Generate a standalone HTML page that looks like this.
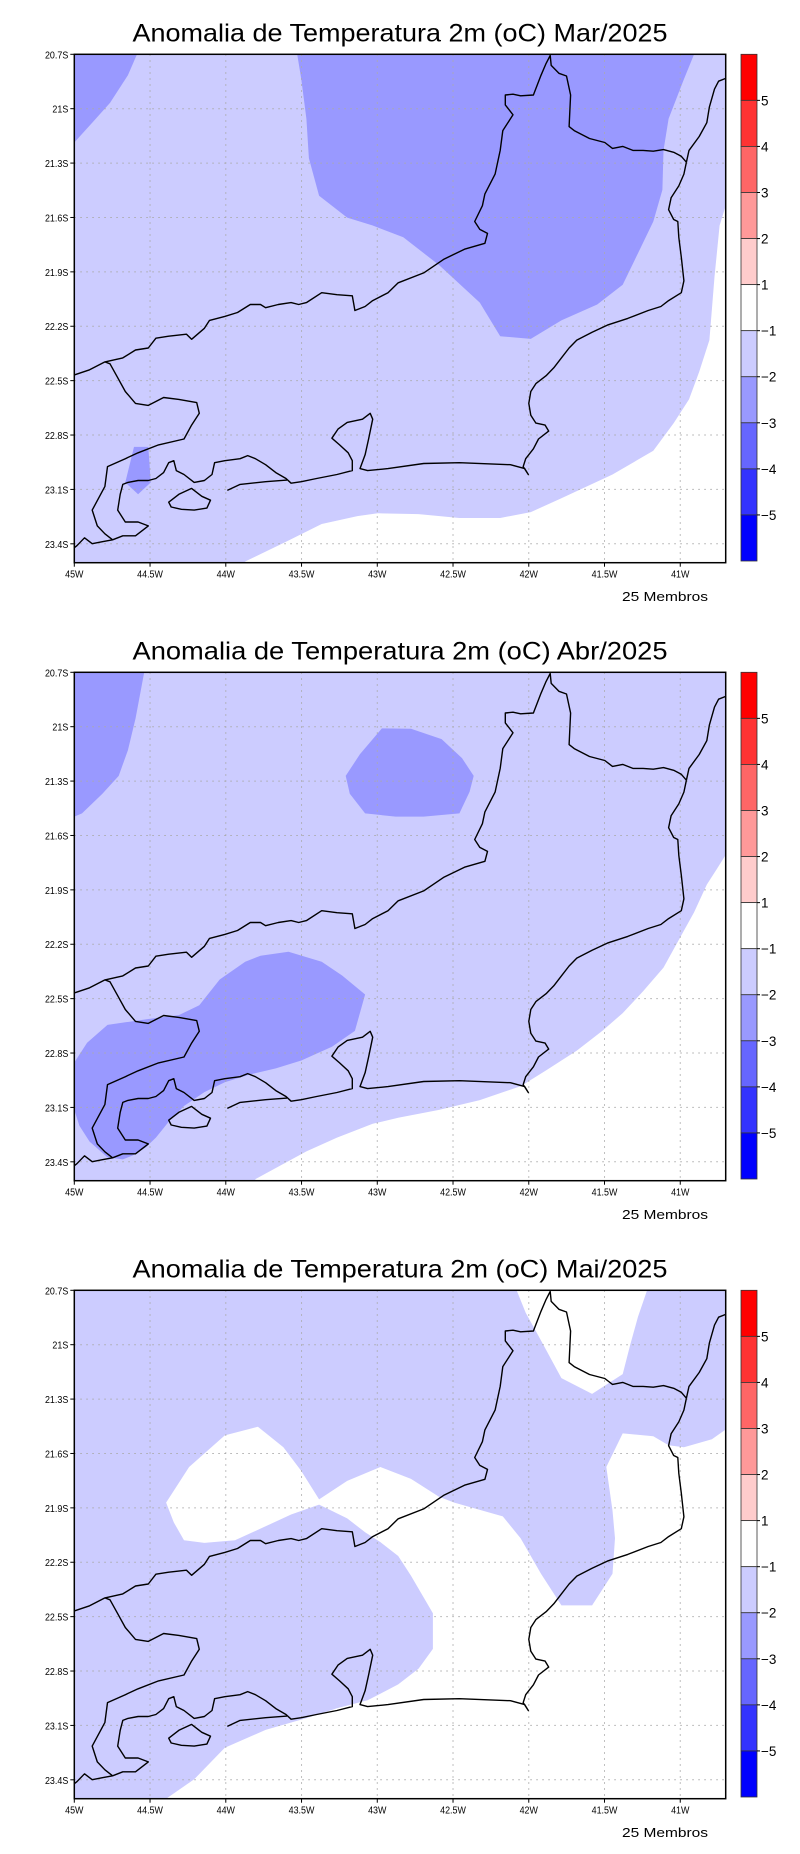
<!DOCTYPE html>
<html><head><meta charset="utf-8">
<style>
html,body{margin:0;padding:0;background:#fff;}
svg{display:block;}
text{font-family:"Liberation Sans","DejaVu Sans",sans-serif;}
</style></head>
<body>
<svg id="fig" width="800" height="1854" viewBox="0 0 800 1854" xmlns="http://www.w3.org/2000/svg"></svg>
<script>
// ---- data ----
const months = ["Mar/2025","Abr/2025","Mai/2025"];
const lonTicks = [-45,-44.5,-44,-43.5,-43,-42.5,-42,-41.5,-41];
const lonLabels = ["45W","44.5W","44W","43.5W","43W","42.5W","42W","41.5W","41W"];
const latTicks = [20.7,21,21.3,21.6,21.9,22.2,22.5,22.8,23.1,23.4];
const latLabels = ["20.7S","21S","21.3S","21.6S","21.9S","22.2S","22.5S","22.8S","23.1S","23.4S"];
const cbColors = ["#ff0000","#ff3333","#ff6666","#ff9999","#ffcccc","#ffffff","#ccccff","#9999ff","#6666ff","#3333ff","#0000ff"];
const cbLabels = ["5","4","3","2","1","-1","-2","-3","-4","-5"];

// ---- geometry (traced, reference-image coordinates) ----
const border = [[145,948],[175,935],[205,915],[240,905],[265,885],[290,880],[305,855],[330,850],[365,845],[375,858],[400,830],[410,810],[440,800],[465,790],[490,770],[510,770],[520,778],[545,770],[570,765],[585,770],[600,765],[630,740],[660,745],[690,748],[695,785],[715,775],[730,760],[760,740],[780,715],[830,690],[870,655],[910,630],[950,615],[955,590],[940,580],[930,560],[945,520],[950,490],[970,440],[980,380],[985,330],[1005,290],[990,265],[990,240],[1005,238],[1020,242],[1045,240],[1060,190],[1070,160],[1078,140],[1080,165],[1095,185],[1110,192],[1118,240],[1115,320],[1125,330],[1155,350],[1185,360],[1200,375],[1220,370],[1240,380],[1260,380],[1280,382],[1300,378],[1320,385],[1335,395],[1345,410]];
const coastN = [[1345,410],[1350,380],[1370,345],[1385,310],[1390,270],[1400,225],[1408,205],[1422,198]];
const coast = [[1345,410],[1340,440],[1330,470],[1315,500],[1310,530],[1320,555],[1328,560],[1330,600],[1335,650],[1340,710],[1335,740],[1310,760],[1295,775],[1270,785],[1230,805],[1190,822],[1160,840],[1130,860],[1115,880],[1100,905],[1085,930],[1070,950],[1050,970],[1040,990],[1036,1020],[1040,1050],[1050,1070],[1068,1075],[1075,1090],[1055,1110],[1045,1135],[1030,1160],[1025,1180],[1035,1200],[1028,1185],[1000,1175],[900,1170],[830,1172],[760,1185],[720,1190],[705,1185],[715,1150],[722,1110],[730,1060],[725,1045],[710,1060],[680,1068],[662,1085],[650,1108],[665,1125],[682,1145],[690,1165],[690,1190],[660,1200],[620,1210],[590,1218],[570,1222],[560,1210],[540,1195],[520,1175],[500,1160],[485,1152],[470,1160],[440,1165],[420,1170],[415,1200],[400,1215],[380,1220],[360,1200],[345,1190],[340,1165],[330,1170],[320,1195],[305,1210],[290,1215],[270,1215],[250,1220],[240,1225],[235,1250],[230,1290],[245,1320],[270,1320],[290,1330],[265,1355],[240,1355],[220,1365],[200,1370],[180,1375],[165,1360],[150,1380],[145,1385]];
const spBorder = [[205,915],[215,920],[230,955],[245,990],[265,1020],[290,1025],[320,1005],[350,1010],[385,1018],[390,1045],[375,1075],[360,1110],[310,1125],[270,1145],[245,1160],[210,1180],[205,1230],[180,1290],[190,1330],[205,1350],[220,1365]];
const marambaia = [[445,1240],[470,1225],[520,1218],[562,1214]];
const isla1 = [[330,1270],[350,1250],[375,1235],[395,1255],[412,1265],[405,1285],[380,1290],[355,1288],[335,1282]];

// panel fills: [color, polygon] (traced)
const fills = [
 [
  ["#9999ff",[[145,137],[268,137],[250,190],[215,260],[180,310],[145,360]]],
  ["#9999ff",[[582,137],[1360,137],[1340,200],[1310,300],[1300,380],[1298,480],[1280,560],[1250,640],[1220,720],[1170,770],[1100,810],[1040,857],[980,850],[940,765],[860,670],[790,600],[730,570],[680,550],[625,495],[605,400],[600,300],[590,200]]],
  ["#9999ff",[[262,1130],[290,1130],[295,1220],[270,1250],[245,1220]]],
  ["#ffffff",[[1422,520],[1410,570],[1400,700],[1390,860],[1370,940],[1350,1010],[1320,1070],[1280,1140],[1200,1200],[1100,1260],[1040,1295],[980,1310],[900,1310],[820,1300],[740,1298],[700,1305],[630,1325],[560,1370],[480,1420],[480,1423],[1422,1423]]]
 ],
 [
  ["#9999ff",[[145,137],[282,137],[265,254],[250,334],[232,399],[200,444],[160,494],[145,502]]],
  ["#9999ff",[[748,279],[805,280],[865,306],[905,354],[928,399],[920,439],[900,494],[830,502],[775,502],[715,494],[685,444],[677,399],[705,344]]],
  ["#9999ff",[[145,1124],[170,1074],[210,1029],[290,1014],[350,1004],[390,979],[430,914],[480,869],[510,854],[565,844],[630,869],[670,904],[715,952],[695,1044],[650,1084],[590,1119],[540,1139],[490,1154],[440,1174],[400,1199],[360,1234],[330,1274],[305,1314],[285,1339],[260,1359],[240,1369],[210,1364],[175,1324],[155,1284],[145,1244]]],
  ["#ffffff",[[1422,599],[1405,634],[1385,674],[1360,744],[1330,814],[1300,884],[1260,944],[1220,999],[1180,1044],[1130,1094],[1070,1144],[1020,1184],[940,1219],[860,1244],[780,1264],[730,1279],[660,1314],[600,1349],[550,1384],[500,1419],[500,1423],[1422,1423]]]
 ],
 [
  ["#ffffff",[[1012,137],[1268,137],[1250,204],[1235,274],[1220,349],[1160,399],[1100,359],[1060,264],[1030,194]]],
  ["#ffffff",[[325,674],[370,584],[440,504],[505,482],[555,534],[590,594],[625,666],[680,619],[745,584],[805,614],[860,659],[890,674],[985,709],[1020,764],[1060,854],[1100,934],[1160,934],[1200,854],[1205,764],[1200,694],[1188,584],[1220,499],[1280,506],[1310,529],[1340,534],[1395,514],[1422,489],[1422,1423],[325,1423],[380,1374],[440,1294],[520,1249],[600,1219],[660,1194],[720,1174],[780,1134],[820,1094],[848,1044],[848,954],[805,859],[780,809],[745,774],[715,749],[680,714],[625,679],[570,704],[520,734],[460,769],[400,776],[360,769],[340,724]]]
 ]
];

// ---- layout ----
const NS = "http://www.w3.org/2000/svg";
const svg = document.getElementById("fig");
const PL=74.3, PR=725.7, PT=54.3, PB=562.7, PANEL_DY=618;
const lonMin=-45, lonMax=-40.7, latTop=20.7, latBot=20.7+(PB-PT)/181.3;
function xs(lon){return PL+(lon-lonMin)/(lonMax-lonMin)*(PR-PL);}
function ys(lat){return PT+(lat-latTop)/(latBot-latTop)*(PB-PT);}
function zx(v){return PL+(v-145)*(PR-PL)/1277;}
function zy(v){return PT+(v-137)*(PB-PT)/1286;}
function pts(a){return a.map(p=>zx(p[0]).toFixed(1)+","+zy(p[1]).toFixed(1)).join(" ");}
function mk(tag,attrs,parent){const e=document.createElementNS(NS,tag);for(const k in attrs)e.setAttribute(k,attrs[k]);(parent||svg).appendChild(e);return e;}

months.forEach((m,pi)=>{
  const g=mk("g",{transform:"translate(0,"+(pi*PANEL_DY)+")"});
  
  
  const t=mk("text",{x:400,y:41.5,"text-anchor":"middle","font-size":25,textLength:535,lengthAdjust:"spacingAndGlyphs",fill:"#000"},g);
  t.textContent="Anomalia de Temperatura 2m (oC) "+m;
  
  
  const clipId="clip"+pi;
  const cp=mk("clipPath",{id:clipId},g);
  mk("rect",{x:PL,y:PT,width:PR-PL,height:PB-PT},cp);
  const field=mk("g",{"clip-path":"url(#"+clipId+")"},g);
  
  
  const bg=mk("rect",{x:PL,y:PT,width:PR-PL,height:PB-PT,fill:"#ccccff"},field);
  
  
  fills[pi].forEach((f,i)=>{
    const p=mk("polygon",{points:pts(f[1]),fill:f[0]},field);
    
    
  });
  // grid
  lonTicks.forEach((v,i)=>{
    if(i>0){const l=mk("line",{x1:xs(v),x2:xs(v),y1:PT,y2:PB,stroke:"#aaa","stroke-width":1,"stroke-dasharray":"1.5,4.5"},g);
    
    }
    const tk=mk("line",{x1:xs(v),x2:xs(v),y1:PB,y2:PB+4,stroke:"#000"},g);
    const tx=mk("text",{x:xs(v),y:PB+15,"text-anchor":"middle","font-size":10.5,fill:"#000",transform:"translate("+xs(v)+",0) scale(0.85,1) translate("+(-xs(v))+",0)"},g);
    tx.textContent=lonLabels[i];
    
    
  });
  latTicks.forEach((v,i)=>{
    if(i>0){const l=mk("line",{x1:PL,x2:PR,y1:ys(v),y2:ys(v),stroke:"#aaa","stroke-width":1,"stroke-dasharray":"1.5,4.5"},g);
    
    }
    mk("line",{x1:PL-4,x2:PL,y1:ys(v),y2:ys(v),stroke:"#000"},g);
    const tx=mk("text",{x:PL-6,y:ys(v)+4,"text-anchor":"end","font-size":10.5,fill:"#000",transform:"translate("+(PL-6)+",0) scale(0.85,1) translate("+(-(PL-6))+",0)"},g);
    tx.textContent=latLabels[i];
    
    
  });
  // map lines
  const lines=mk("g",{"clip-path":"url(#"+clipId+")",fill:"none",stroke:"#000","stroke-width":1.4,"stroke-linejoin":"round"},g);
  
  
  [border,coastN,coast,spBorder,marambaia].forEach(a=>{
    const pl=mk("polyline",{points:pts(a)},lines);
    
    
  });
  const il=mk("polygon",{points:pts(isla1)},lines);
  
  
  // frame
  const fr=mk("rect",{x:PL,y:PT,width:PR-PL,height:PB-PT,fill:"none",stroke:"#000","stroke-width":1.5},g);
  
  
  // colorbar
  const cb=mk("g",{},g);
  
  
  const cbX=741, cbW=16, cbT=54.3, cbB=561;
  const sh=(cbB-cbT)/cbColors.length;
  cbColors.forEach((c,i)=>{
    const r=mk("rect",{x:cbX,y:cbT+i*sh,width:cbW,height:sh,fill:c,stroke:"#333","stroke-width":0.8},cb);
    
    
  });
  cbLabels.forEach((s,i)=>{
    const y=cbT+(i+1)*sh;
    mk("line",{x1:cbX+cbW,x2:cbX+cbW+3,y1:y,y2:y,stroke:"#000"},cb);
    const tx=mk("text",{x:cbX+cbW+4,y:y+5,"font-size":13.5,fill:"#000"},cb);
    tx.textContent=s.replace("-","\u2212");
    
    
  });
  const mb=mk("text",{x:622,y:601,"font-size":13,textLength:86,lengthAdjust:"spacingAndGlyphs",fill:"#000"},g);
  mb.textContent="25 Membros";
  
  
});
</script>
</body></html>
